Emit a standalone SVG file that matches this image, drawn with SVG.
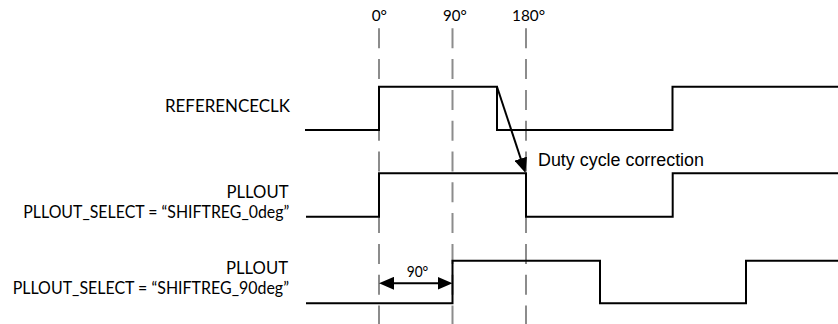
<svg xmlns="http://www.w3.org/2000/svg" width="838" height="324" viewBox="0 0 838 324">
<style>
.bg{fill:#ffffff}
.grid{stroke:#8c8c8c;stroke-width:2;stroke-dasharray:20 10.8;fill:none}
.sig{stroke:#000;stroke-width:2;fill:none;stroke-linejoin:miter;stroke-linecap:butt}
.arr{stroke:#000;stroke-width:2;fill:none}
.lbl{font-family:Lato,"Open Sans",sans-serif;font-size:17px;fill:#000}
.deg{font-family:Lato,"Open Sans",sans-serif;font-size:16px;fill:#000}
.note{font-family:"Liberation Sans",Arial,sans-serif;font-size:17.5px;fill:#000}
</style>
<defs>
<marker id="ah" viewBox="0 0 15 13" refX="10" refY="6.5" markerWidth="15" markerHeight="13" markerUnits="userSpaceOnUse" orient="auto-start-reverse">
<path d="M0,0 L15,6.5 L0,13 z" fill="#000"/>
</marker>
</defs>
<rect class="bg" x="0" y="0" width="838" height="324"/>
<g id="phase-grid">
<line class="grid" x1="379" y1="28.3" x2="379" y2="324"/>
<line class="grid" x1="452.5" y1="28.3" x2="452.5" y2="324"/>
<line class="grid" x1="526" y1="28.3" x2="526" y2="324"/>
<text class="deg" x="371.7" y="20.7" textLength="15.3" lengthAdjust="spacingAndGlyphs">0°</text>
<text class="deg" x="443" y="20.7" textLength="23.7" lengthAdjust="spacingAndGlyphs">90°</text>
<text class="deg" x="512" y="20.7" textLength="33" lengthAdjust="spacingAndGlyphs">180°</text>
</g>
<g id="referenceclk">
<text class="lbl" x="165" y="112.3" textLength="125" lengthAdjust="spacingAndGlyphs">REFERENCECLK</text>
<path class="sig" d="M305,130 H379 V86.7 H497 V130 H672.5 V86.7 H838"/>
</g>
<g id="pllout-0deg">
<text class="lbl" x="226.5" y="197.7" textLength="62" lengthAdjust="spacingAndGlyphs">PLLOUT</text>
<text class="lbl" x="23.3" y="217.7" textLength="266" lengthAdjust="spacingAndGlyphs">PLLOUT_SELECT = “SHIFTREG_0deg”</text>
<path class="sig" d="M306,216.7 H379 V173.3 H526 V216.7 H672.7 V173.3 H838"/>
</g>
<g id="pllout-90deg">
<text class="lbl" x="226" y="274" textLength="62" lengthAdjust="spacingAndGlyphs">PLLOUT</text>
<text class="lbl" x="12.7" y="294" textLength="276.3" lengthAdjust="spacingAndGlyphs">PLLOUT_SELECT = “SHIFTREG_90deg”</text>
<path class="sig" d="M306,303.3 H452.5 V260.7 H600 V303.3 H746 V260.7 H838"/>
</g>
<g id="connectors">
<line class="arr" x1="497" y1="86.7" x2="523.9" y2="168.2" marker-end="url(#ah)"/>
<line class="arr" x1="384" y1="283.3" x2="447.5" y2="283.3" marker-start="url(#ah)" marker-end="url(#ah)"/>
</g>
<g id="annotations">
<text class="note" x="538" y="166" textLength="166" lengthAdjust="spacingAndGlyphs">Duty cycle correction</text>
<text class="deg" x="406.7" y="277.3" textLength="21.6" lengthAdjust="spacingAndGlyphs">90°</text>
</g>
</svg>
